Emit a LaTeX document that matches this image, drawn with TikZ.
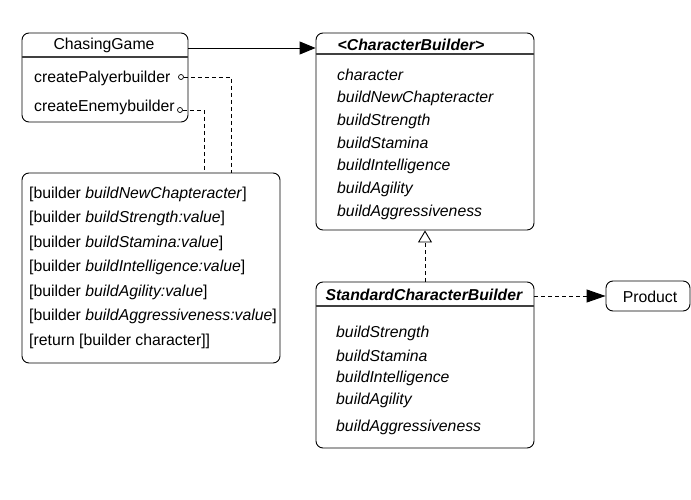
\documentclass[tikz,border=0pt]{standalone}
\usepackage{fontspec}
\setmainfont{Liberation Sans}
\usetikzlibrary{arrows.meta}
\begin{document}
\begin{tikzpicture}[x=1pt,y=-1pt,
  box/.style={draw, line width=0.9pt, rounded corners=7pt, inner sep=0pt},
  hdr/.style={draw=black!75, line width=1.1pt},
  txt/.style={anchor=west, inner sep=0pt, font=\fontsize{15.8}{18}\selectfont},
  ttl/.style={anchor=center, inner sep=0pt, font=\fontsize{15.8}{18}\selectfont},
  dashline/.style={line width=0.9pt, dash pattern=on 4pt off 3pt},
  dot/.style={circle, draw, line width=0.7pt, inner sep=0pt, minimum size=5pt},
  solidarrow/.style={line width=0.9pt, -{Triangle[length=16pt,width=13pt]}},
  dasharrow/.style={dashline, -{Triangle[length=19pt,width=13pt]}},
  realize/.style={dashline, -{Triangle[open,length=12pt,width=14pt,line width=0.9pt]}}
]
\useasboundingbox (0,0) rectangle (691,500);

% boxes
\node[box, minimum width=166pt, minimum height=89pt] (cg) at (105,77.5) {};
\node[box, minimum width=218pt, minimum height=197pt] (cb) at (425,131.5) {};
\node[box, minimum width=218pt, minimum height=166pt] (scb) at (425,365) {};
\node[box, minimum width=84pt, minimum height=30pt] (prod) at (648,296) {};
\node[box, minimum width=258pt, minimum height=190pt] (seq) at (151,268) {};

% header separators
\coordinate (h1) at (0,57);
\coordinate (h2) at (0,54);
\coordinate (h3) at (0,306);
\draw[hdr] (cg.west |- h1) -- (cg.east |- h1);
\draw[hdr] (cb.west |- h2) -- (cb.east |- h2);
\draw[hdr] (scb.west |- h3) -- (scb.east |- h3);

% ChasingGame
\node[ttl] (cgt) at (104,45) {ChasingGame};
\node[txt] (cg1) at (34,78) {createPalyerbuilder};
\node[txt] (cg2) at (34,107) {createEnemybuilder};
\node[dot] (c1) at (181,77) {};
\node[dot] (c2) at (180,110) {};

% CharacterBuilder
\node[ttl] (cbt) at (411,45) {\bfseries\itshape <CharacterBuilder>};
\node[txt] (cb1) at (337,75) {\itshape character};
\node[txt] (cb2) at (337,98) {\itshape buildNewChapteracter};
\node[txt] (cb3) at (337,121) {\itshape buildStrength};
\node[txt] (cb4) at (337,143) {\itshape buildStamina};
\node[txt] (cb5) at (337,166) {\itshape buildIntelligence};
\node[txt] (cb6) at (337,189) {\itshape buildAgility};
\node[txt] (cb7) at (337,212) {\itshape buildAggressiveness};

% StandardCharacterBuilder
\node[ttl] (scbt) at (424,295) {\bfseries\itshape StandardCharacterBuilder};
\node[txt] (s1) at (336,333) {\itshape buildStrength};
\node[txt] (s2) at (336,356) {\itshape buildStamina};
\node[txt] (s3) at (336,378) {\itshape buildIntelligence};
\node[txt] (s4) at (336,400) {\itshape buildAgility};
\node[txt] (s5) at (336,427) {\itshape buildAggressiveness};

% Product
\node[ttl] (prodt) at (650,297) {Product};

% sequence box
\node[txt] (q1) at (29,194) {[builder \textit{buildNewChapteracter}]};
\node[txt] (q2) at (29,218.5) {[builder \textit{buildStrength:value}]};
\node[txt] (q3) at (29,243) {[builder \textit{buildStamina:value}]};
\node[txt] (q4) at (29,267.5) {[builder \textit{buildIntelligence:value}]};
\node[txt] (q5) at (29,292) {[builder \textit{buildAgility:value}]};
\node[txt] (q6) at (29,316.5) {[builder \textit{buildAggressiveness:value}]};
\node[txt] (q7) at (29,341) {[return [builder character]]};

% connectors
\coordinate (a1) at (0,48);
\draw[solidarrow] (cg.east |- a1) -- (cb.west |- a1);
\coordinate (k1) at (231,77);
\coordinate (k2) at (204,110);
\draw[dashline] (c1) -- (k1) -- (k1 |- seq.north);
\draw[dashline] (c2) -- (k2) -- (k2 |- seq.north);
\draw[realize] (scb.north) -- (cb.south);
\draw[dasharrow] (scb.east |- prod.west) -- (prod.west);
\end{tikzpicture}
\end{document}
